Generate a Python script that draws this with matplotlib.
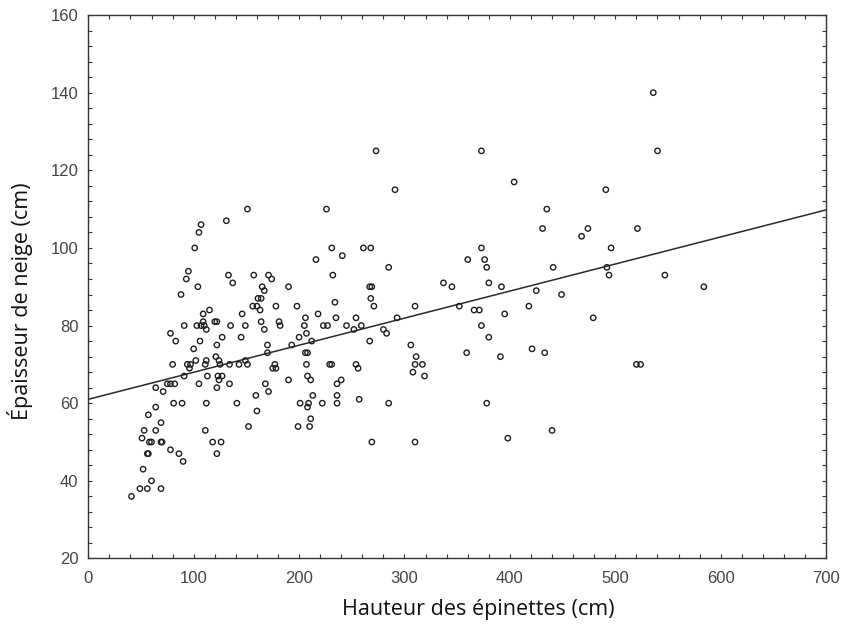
import matplotlib
matplotlib.use("Agg")
import matplotlib.pyplot as plt
from matplotlib.ticker import MultipleLocator

# Hauteur des épinettes (cm)
hauteur = [
    151, 107, 131, 105, 101, 95, 93, 104, 88, 133, 157, 171, 137, 165, 167, 161, 164, 156, 160, 163,
    146, 115, 109, 120, 122, 109, 103, 107, 110, 112, 91, 135, 149, 164, 167, 78, 83, 106, 127, 145,
    122, 100, 170,
    80, 94, 97, 96, 102, 111, 112, 121, 124, 125, 134, 143, 149, 151, 170, 91, 113, 123, 127, 124,
    75, 78, 82, 105, 134, 122, 168, 64, 71, 159, 171, 81, 89, 112, 141, 64, 160, 57, 69, 152,
    53, 64, 51, 58, 60, 69, 70, 111, 118, 126, 122, 56, 57, 78, 86, 90, 52, 60, 49, 56, 69, 41,
    273, 291, 226, 231, 261, 268, 216, 241, 285, 232, 174, 190, 267, 269, 337, 345, 268, 271, 234, 178,
    198, 310, 352, 218, 206, 235, 254, 293, 181, 182, 205, 223, 227, 245, 259, 252, 207, 280, 283, 200,
    212, 193, 267, 306, 206, 208, 177, 175, 178, 207, 229, 231, 254, 256, 311, 310, 317, 308, 319, 190,
    208, 211, 236, 240, 213, 236, 201, 209, 208, 222, 236, 257, 285, 211, 199, 210, 269, 310,
    536, 373, 540, 404, 491, 435, 431, 474, 521, 468, 373, 496, 360, 376, 378, 441, 492, 494, 547, 380,
    392, 584, 425, 449, 366, 371, 395, 418, 373, 479, 380, 359, 391, 421, 433, 520, 524, 378, 398, 440,
]

# Épaisseur de neige (cm)
epaisseur = [
    110, 106, 107, 104, 100, 94, 92, 90, 88, 93, 93, 93, 91, 90, 89, 87, 87, 85, 85, 84,
    83, 84, 83, 81, 81, 81, 80, 80, 80, 79, 80, 80, 80, 81, 79, 78, 76, 76, 77, 77,
    75, 74, 75,
    70, 70, 70, 69, 71, 70, 71, 72, 71, 70, 70, 70, 71, 70, 73, 67, 67, 67, 67, 66,
    65, 65, 65, 65, 65, 64, 65, 64, 63, 62, 63, 60, 60, 60, 60, 59, 58, 57, 55, 54,
    53, 53, 51, 50, 50, 50, 50, 53, 50, 50, 47, 47, 47, 48, 47, 45, 43, 40, 38, 38, 38, 36,
    125, 115, 110, 100, 100, 100, 97, 98, 95, 93, 92, 90, 90, 90, 91, 90, 87, 85, 86, 85,
    85, 85, 85, 83, 82, 82, 82, 82, 81, 80, 80, 80, 80, 80, 80, 79, 78, 79, 78, 77,
    76, 75, 76, 75, 73, 73, 70, 69, 69, 70, 70, 70, 70, 69, 72, 70, 70, 68, 67, 66,
    67, 66, 65, 66, 62, 62, 60, 60, 59, 60, 60, 61, 60, 56, 54, 54, 50, 50,
    140, 125, 125, 117, 115, 110, 105, 105, 105, 103, 100, 100, 97, 97, 95, 95, 95, 93, 93, 91,
    90, 90, 89, 88, 84, 84, 83, 85, 80, 82, 77, 73, 72, 74, 73, 70, 70, 60, 51, 53,
]

# Regression line endpoints
droite_x = [0, 700]
droite_y = [61.0, 109.8]

x_ticks = [0, 100, 200, 300, 400, 500, 600, 700]
y_ticks = [20, 40, 60, 80, 100, 120, 140, 160]

fig = plt.figure(figsize=(8.43, 6.28), dpi=100)
ax = fig.add_axes([0.1047, 0.1107, 0.8753, 0.8654])

ax.scatter(hauteur, epaisseur, s=15, facecolors="none", edgecolors="#1e1e1e",
           linewidths=1.0, zorder=3)
ax.plot(droite_x, droite_y, color="#2a2a2a", linewidth=1.1, zorder=2)

ax.set_xlim(0, 700)
ax.set_ylim(20, 160)
ax.set_xticks(x_ticks)
ax.set_yticks(y_ticks)
ax.xaxis.set_minor_locator(MultipleLocator(20))
ax.yaxis.set_minor_locator(MultipleLocator(4))

ax.tick_params(which="both", direction="in", top=True, right=True,
               length=3, width=0.8, color="#333333")
ax.tick_params(axis="x", which="major", pad=9)
ax.tick_params(axis="y", which="major", pad=7)
for lbl in ax.get_xticklabels() + ax.get_yticklabels():
    lbl.set_fontfamily("Liberation Sans")
    lbl.set_fontsize(12)
    lbl.set_color("#444444")

for sp in ax.spines.values():
    sp.set_linewidth(1.0)
    sp.set_color("#333333")

ax.set_xlabel("Hauteur des épinettes (cm)", fontfamily="Open Sans", fontsize=15.5, color="#111111")
ax.set_ylabel("Épaisseur de neige (cm)", fontfamily="Open Sans", fontsize=15.5, color="#111111")
ax.xaxis.set_label_coords(0.529, -0.074)
ax.yaxis.set_label_coords(-0.075, 0.474)

fig.savefig("out.png", dpi=100)
